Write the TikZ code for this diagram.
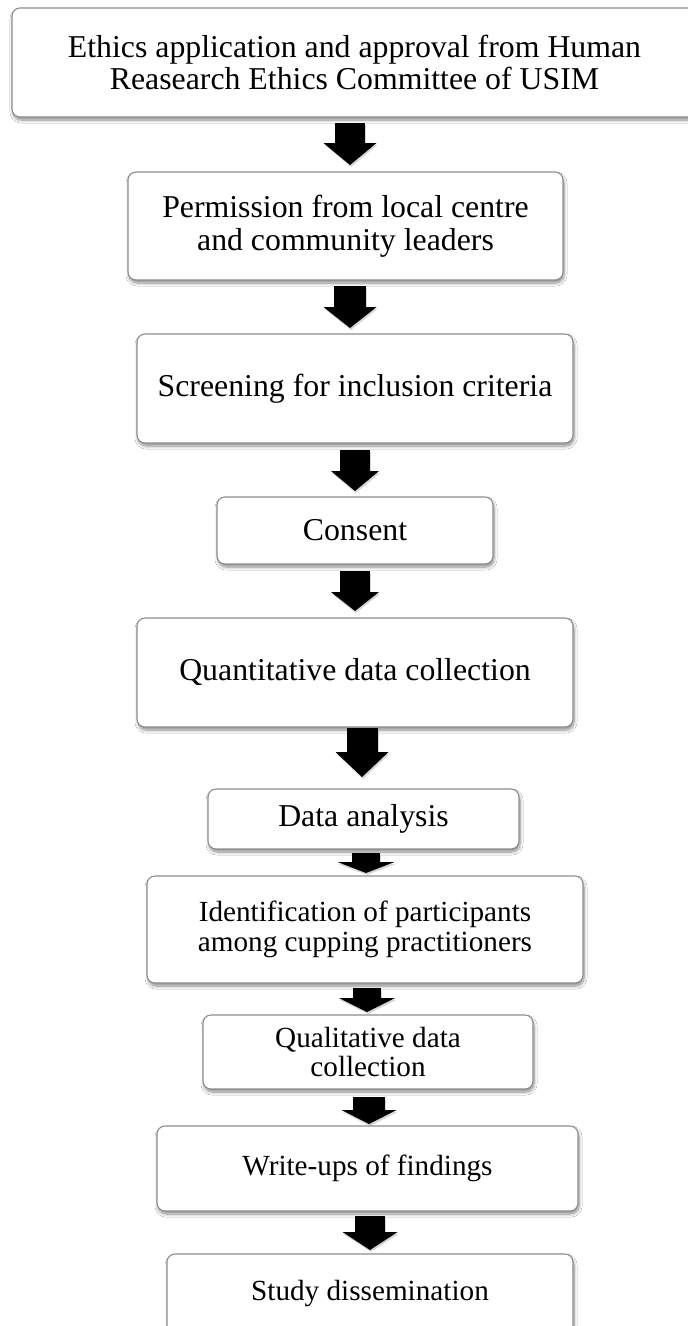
\documentclass[tikz,border=0pt]{standalone}
\usepackage{fontspec}
\setmainfont{Liberation Serif}
\usetikzlibrary{arrows.meta,shadows.blur}
\definecolor{boxgray}{HTML}{8C8C8C}

% block arrow between two stages:
% #1 from, #2 to, #3 x offset at start, #4 gap below start,
% #5 x offset at end, #6 gap above end, #7 shaft width, #8 head width, #9 head length
\newcommand\stagearrow[9]{%
  \draw[black!45, opacity=0.35, line width=#7, -{Triangle[width=#8,length=#9,line width=0pt]},
        transform canvas={xshift=1pt,yshift=-2pt}]
    ([xshift=#3,yshift=-#4]#1.south) -- ([xshift=#5,yshift=#6]#2.north);
  \draw[black, line width=#7, -{Triangle[width=#8,length=#9,line width=0pt]}]
    ([xshift=#3,yshift=-#4]#1.south) -- ([xshift=#5,yshift=#6]#2.north);
}

\begin{document}
\begin{tikzpicture}[x=1pt,y=-1pt,
  stage/.style={draw=boxgray, line width=1.1pt, fill=white, rounded corners=8pt,
    outer sep=0pt, inner sep=0pt, align=center,
    blur shadow={shadow xshift=1pt, shadow yshift=-3pt, shadow blur radius=3pt,
      shadow blur steps=8, shadow opacity=45}},
  big/.style={font=\fontsize{31.8}{32.5}\selectfont},
  small/.style={font=\fontsize{29.2}{29.5}\selectfont}]
\useasboundingbox (0,0) rectangle (688,1326);
\clip (0,0) rectangle (688,1326);
\fill[white] (0,0) rectangle (688,1326);

\node[stage, big, minimum width=685pt, minimum height=109pt] (b1) at (354.5,62.5)
  {Ethics application and approval from Human\\Reasearch Ethics Committee of USIM};
\node[stage, big, minimum width=435pt, minimum height=108pt] (b2) at (345.5,226)
  {Permission from local centre\\and community leaders};
\node[stage, big, minimum width=436pt, minimum height=109pt] (b3) at (355,388.5)
  {Screening for inclusion criteria};
\node[stage, big, minimum width=276pt, minimum height=67pt] (b4) at (355,530.5)
  {Consent};
\node[stage, big, minimum width=436pt, minimum height=109pt] (b5) at (355,672.5)
  {Quantitative data collection};
\node[stage, big, minimum width=311pt, minimum height=60pt] (b6) at (363.5,819)
  {Data analysis};
\node[stage, small, minimum width=436pt, minimum height=107pt] (b7) at (365,929.5)
  {Identification of participants\\among cupping practitioners};
\node[stage, small, minimum width=330pt, minimum height=74pt] (b8) at (368,1052)
  {Qualitative data\\collection};
\node[stage, small, minimum width=421pt, minimum height=85pt] (b9) at (367.5,1168.5)
  {Write-ups of findings};
\node[stage, small, minimum width=406pt, minimum height=80pt] (b10) at (370,1294)
  {Study dissemination};

\stagearrow{b1}{b2}{-4.5pt}{6pt}{4.5pt}{7pt}{30pt}{53pt}{22pt}
\stagearrow{b2}{b3}{4.5pt}{6pt}{-5pt}{6pt}{32pt}{53pt}{21pt}
\stagearrow{b3}{b4}{0pt}{7pt}{0pt}{6pt}{30pt}{48pt}{20pt}
\stagearrow{b4}{b5}{0pt}{7pt}{0pt}{7pt}{30pt}{48pt}{19pt}
\stagearrow{b5}{b6}{7pt}{1pt}{-1.5pt}{12pt}{31pt}{53pt}{25pt}
\stagearrow{b6}{b7}{2.5pt}{4pt}{1pt}{3pt}{28pt}{57pt}{11pt}
\stagearrow{b7}{b8}{2pt}{5pt}{-1pt}{3pt}{28pt}{56pt}{14pt}
\stagearrow{b8}{b9}{1pt}{8pt}{1.5pt}{2pt}{32pt}{55pt}{14pt}
\stagearrow{b9}{b10}{2.5pt}{5pt}{0pt}{4pt}{30pt}{55pt}{18pt}
\end{tikzpicture}
\end{document}
